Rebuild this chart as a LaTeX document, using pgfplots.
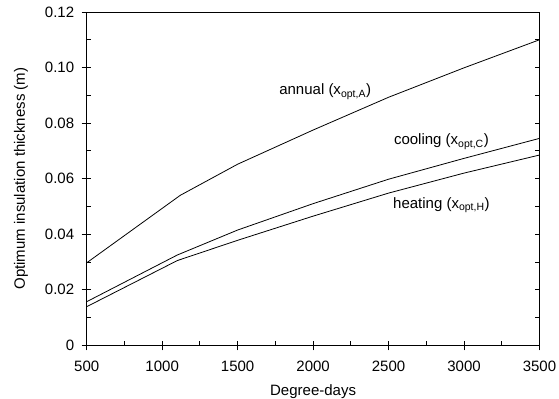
\documentclass[border=0pt]{standalone}
\usepackage{pgfplots}
\pgfplotsset{compat=1.18}
\usepackage{fontspec}
\setmainfont{Liberation Sans}
\begin{document}
\begin{tikzpicture}[font=\fontsize{15bp}{18bp}\selectfont]
\path[use as bounding box] (-86.7bp,-53.7bp) rectangle (472.3bp,345.3bp);
\pgfplotsset{
 common/.style={scale only axis, width=452.8bp, height=333.3bp,
  xmin=500,xmax=3500,ymin=0,ymax=0.12,
  axis line style={line width=0.8bp},
  /pgf/number format/assume math mode=true,
  scaled y ticks=false, scaled x ticks=false,
  every tick/.style={black,line width=0.8bp},
  ticklabel style={font=\fontsize{15bp}{18bp}\selectfont}},
}
\begin{axis}[common,
 xtick={500,1000,1500,2000,2500,3000,3500},
 xticklabels={500,1000,1500,2000,2500,3000,3500},
 ytick={0,0.02,0.04,0.06,0.08,0.10,0.12},
 yticklabels={0,0.02,0.04,0.06,0.08,0.10,0.12},
 minor x tick num=1, minor y tick num=1,
 tick pos=left, tick align=inside,
 major tick length=4bp, minor tick length=4bp,
 xticklabel style={yshift=-12bp},
 yticklabel style={xshift=-9bp},
 xlabel={Degree-days}, ylabel={Optimum insulation thickness (m)},
 every axis x label/.style={at={(axis description cs:0.5,0)}, anchor=north, yshift=-36bp},
 every axis y label/.style={at={(axis description cs:-0.1451,0.5)}, anchor=center, rotate=90},
]
\addplot[black, line width=0.8bp] coordinates {(500,0.0297)(1120,0.0540)(1500,0.0652)(2000,0.0775)(2500,0.0893)(3000,0.0999)(3500,0.1100)};
\addplot[black, line width=0.8bp] coordinates {(500,0.0157)(1100,0.0325)(1500,0.0415)(2000,0.0510)(2500,0.0598)(3000,0.0673)(3500,0.0745)};
\addplot[black, line width=0.8bp] coordinates {(500,0.0139)(1100,0.0305)(1500,0.0378)(2000,0.0465)(2500,0.0548)(3000,0.0620)(3500,0.0685)};
\node at (axis cs:2080,0.0913) {annual (x\textsubscript{opt,A})};
\node at (axis cs:2850,0.0733) {cooling (x\textsubscript{opt,C})};
\node at (axis cs:2850,0.0505) {heating (x\textsubscript{opt,H})};
\end{axis}
\begin{axis}[common,
 xtick={500,1000,1500,2000,2500,3000,3500},
 ytick={0,0.02,0.04,0.06,0.08,0.10,0.12},
 xticklabels={}, yticklabels={},
 tick pos=left, tick align=outside, major tick length=5bp,
 axis line style={draw=none},
]
\end{axis}
\begin{axis}[common,
 xtick=\empty,
 ytick={0,0.01,0.02,0.03,0.04,0.05,0.06,0.07,0.08,0.09,0.10,0.11,0.12},
 yticklabels={},
 ytick pos=right, tick align=inside, major tick length=5bp,
 axis line style={draw=none},
]
\end{axis}
\end{tikzpicture}
\end{document}
